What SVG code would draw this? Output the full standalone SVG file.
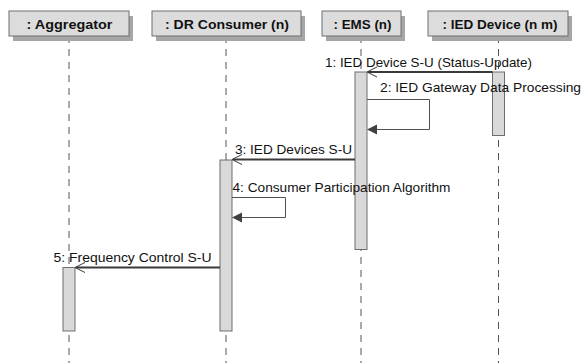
<svg xmlns="http://www.w3.org/2000/svg" width="581" height="363" viewBox="0 0 581 363">
<style>
.hbox{fill:#dcdcdc;stroke:#6e6e6e;stroke-width:1}
.shadow{fill:#a6a6a6}
.htxt{font-family:"Liberation Sans",Arial,sans-serif;font-size:13px;font-weight:bold;fill:#111;text-anchor:middle}
.life{stroke:#555;stroke-width:1;stroke-dasharray:7,6;fill:none}
.bar{fill:#d9d9d9;stroke:#6e6e6e;stroke-width:1}
.msg{stroke:#3a3a3a;stroke-width:2;fill:none}
.self{stroke:#505050;stroke-width:1;fill:none}
.open{stroke:#3a3a3a;stroke-width:1;fill:none}
.fill{fill:#404040;stroke:none}
.mtxt{font-family:"Liberation Sans",Arial,sans-serif;font-size:13px;fill:#111}
</style>
<rect width="581" height="363" fill="#fff"/>
<g id="lifelines">
<line class="life" x1="69" y1="36" x2="69" y2="363"/>
<line class="life" x1="226" y1="36" x2="226" y2="363"/>
<line class="life" x1="361" y1="36" x2="361" y2="363"/>
<line class="life" x1="498.5" y1="36" x2="498.5" y2="363"/>
</g>
<g id="aggregator">
<rect class="shadow" x="13" y="16" width="120" height="25"/>
<rect class="hbox" x="9" y="11" width="120" height="25"/>
<text class="htxt" x="69.5" y="28.5" textLength="86" lengthAdjust="spacingAndGlyphs">: Aggregator</text>
<rect class="bar" x="63" y="267.5" width="12" height="63.5"/>
</g>
<g id="dr-consumer">
<rect class="shadow" x="156" y="16" width="149" height="25"/>
<rect class="hbox" x="152" y="11" width="149" height="25"/>
<text class="htxt" x="227" y="28.5" textLength="124" lengthAdjust="spacingAndGlyphs">: DR Consumer (n)</text>
<rect class="bar" x="220" y="160" width="12" height="171"/>
</g>
<g id="ems">
<rect class="shadow" x="326" y="16" width="79" height="25"/>
<rect class="hbox" x="322" y="11" width="79" height="25"/>
<text class="htxt" x="362.5" y="28.5" textLength="58" lengthAdjust="spacingAndGlyphs">: EMS (n)</text>
<rect class="bar" x="355" y="72" width="12" height="177.5"/>
</g>
<g id="ied-device">
<rect class="shadow" x="432" y="16" width="140" height="25"/>
<rect class="hbox" x="428" y="11" width="140" height="25"/>
<text class="htxt" x="500" y="28.5" textLength="115" lengthAdjust="spacingAndGlyphs">: IED Device (n m)</text>
<rect class="bar" x="492.5" y="72" width="12" height="63.5"/>
</g>
<g id="connectors">
<line class="msg" x1="492.5" y1="72" x2="368" y2="72"/>
<polyline class="open" points="377,67 367,72 377,77"/>
<text class="mtxt" x="325" y="67" textLength="207" lengthAdjust="spacingAndGlyphs">1: IED Device S-U (Status-Update)</text>
<polyline class="self" points="367,99.5 429.5,99.5 429.5,129.5 376,129.5"/>
<polygon class="fill" points="367,129.5 377,124.5 377,134.5"/>
<text class="mtxt" x="380" y="92" textLength="201" lengthAdjust="spacingAndGlyphs">2: IED Gateway Data Processing</text>
<line class="msg" x1="355" y1="159.5" x2="233" y2="159.5"/>
<polyline class="open" points="242,154.5 232,159.5 242,164.5"/>
<text class="mtxt" x="235" y="154" textLength="117" lengthAdjust="spacingAndGlyphs">3: IED Devices S-U</text>
<polyline class="self" points="232,197.5 285.5,197.5 285.5,217.5 241,217.5"/>
<polygon class="fill" points="232,217.5 242,212.5 242,222.5"/>
<text class="mtxt" x="232.5" y="191.5" textLength="218" lengthAdjust="spacingAndGlyphs">4: Consumer Participation Algorithm</text>
<line class="msg" x1="220" y1="267.5" x2="76" y2="267.5"/>
<polyline class="open" points="85,262.5 75,267.5 85,272.5"/>
<text class="mtxt" x="53.5" y="262" textLength="158" lengthAdjust="spacingAndGlyphs">5: Frequency Control S-U</text>
</g>
</svg>
